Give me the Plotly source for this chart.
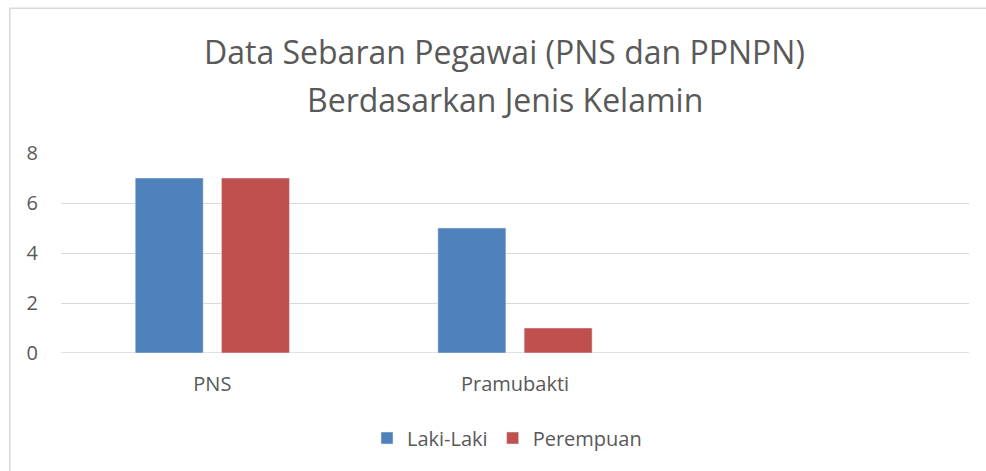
import plotly.graph_objects as go

categories = ["PNS", "Pramubakti", ""]
laki_laki = [7, 5, None]
perempuan = [7, 1, None]
y_ticks = [0, 2, 4, 6, 8]
title_lines = ["Data Sebaran Pegawai (PNS dan PPNPN)", "Berdasarkan Jenis Kelamin"]

W, H = 986, 471
L, T = 61, 153
R = W - 969
B = H - 353
pw, ph = W - L - R, H - T - B


def px_x(x):
    return (x - L) / pw


def px_y(y):
    return (H - B - y) / ph


xs = list(range(len(categories)))
font_color = "#595959"
ff = "Open Sans, Segoe UI, sans-serif"

fig = go.Figure()
fig.add_trace(go.Bar(x=xs, y=laki_laki, name="Laki-Laki", marker_color="#4F81BD"))
fig.add_trace(go.Bar(x=xs, y=perempuan, name="Perempuan", marker_color="#C0504D"))

annotations = [
    dict(text=title_lines[0], xref="paper", yref="paper", x=px_x(504.5), y=px_y(51),
         xanchor="center", yanchor="middle", showarrow=False,
         font=dict(family=ff, size=32, color=font_color)),
    dict(text=title_lines[1], xref="paper", yref="paper", x=px_x(504.5), y=px_y(99),
         xanchor="center", yanchor="middle", showarrow=False,
         font=dict(family=ff, size=32, color=font_color)),
]

fig.update_layout(
    width=W, height=H,
    margin=dict(l=L, r=R, t=T, b=B),
    paper_bgcolor="white", plot_bgcolor="white",
    barmode="group", bargap=0.43, bargroupgap=0.212,
    font=dict(family=ff, color=font_color, size=20),
    annotations=annotations,
    xaxis=dict(
        tickvals=xs[:2], ticktext=categories[:2], range=[-0.5, 2.5],
        showgrid=False, zeroline=False, showline=False, ticks="",
        ticklabelstandoff=17, tickfont=dict(size=20, color=font_color),
        fixedrange=True,
    ),
    yaxis=dict(
        range=[0, 8], tickvals=y_ticks, showgrid=True, gridcolor="#D9D9D9",
        gridwidth=1.3, zeroline=False, showline=False, ticks="",
        ticklabelstandoff=22, tickfont=dict(size=20, color=font_color),
    ),
    legend=dict(
        orientation="h", x=px_x(507), xanchor="center",
        y=px_y(438), yanchor="middle",
        font=dict(size=20, color=font_color),
        traceorder="normal",
    ),
    shapes=[
        dict(type="line", xref="paper", yref="paper",
             x0=px_x(9), x1=px_x(1000), y0=px_y(8.25), y1=px_y(8.25),
             line=dict(color="#D9D9D9", width=1.5)),
        dict(type="line", xref="paper", yref="paper",
             x0=px_x(9.75), x1=px_x(9.75), y0=px_y(8), y1=px_y(490),
             line=dict(color="#D9D9D9", width=1.5)),
        dict(type="line", xref="paper", yref="y",
             x0=0, x1=1, y0=0, y1=0, layer="below",
             line=dict(color="#D9D9D9", width=1.3)),
    ],
)

fig.write_html(
    "out.html",
    config={"displayModeBar": False},
    post_script="document.body.style.margin='0';document.body.style.overflow='hidden';",
)
